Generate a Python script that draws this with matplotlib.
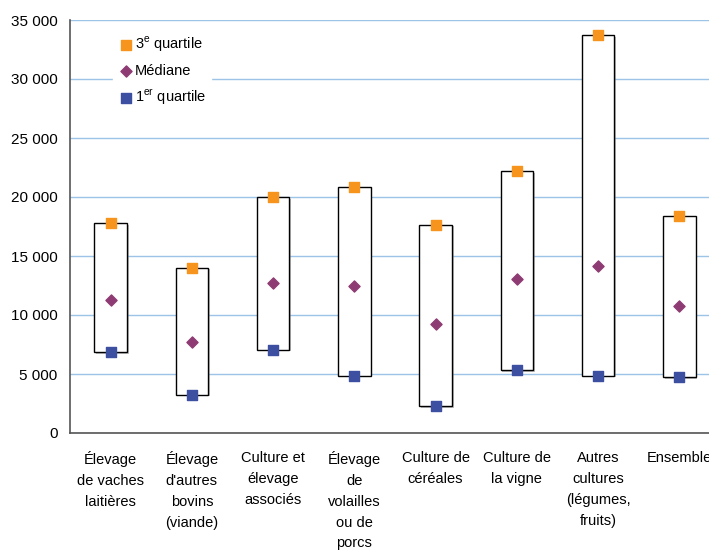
import matplotlib
matplotlib.use("Agg")
import matplotlib.pyplot as plt
import matplotlib.patheffects as pe

plt.rcParams['font.family'] = ['Liberation Sans', 'DejaVu Sans']
plt.rcParams['mathtext.fontset'] = 'custom'
plt.rcParams['mathtext.rm'] = 'Liberation Sans'

categories = [
    "Élevage\nde vaches\nlaitières",
    "Élevage\nd'autres\nbovins\n(viande)",
    "Culture et\nélevage\nassociés",
    "Élevage\nde\nvolailles\nou de\nporcs",
    "Culture de\ncéréales",
    "Culture de\nla vigne",
    "Autres\ncultures\n(légumes,\nfruits)",
    "Ensemble",
]
q3 = [17800, 14000, 20000, 20850, 17650, 22200, 33700, 18400]
median = [11300, 7750, 12750, 12450, 9200, 13050, 14150, 10750]
q1 = [6850, 3250, 7050, 4850, 2300, 5350, 4850, 4750]

W, H = 709, 554
fig = plt.figure(figsize=(W / 100, H / 100), dpi=100)
ax = fig.add_axes([70 / W, 1 - 433 / H, 650 / W, 413 / H])

x = list(range(len(categories)))
heights = [a - b for a, b in zip(q3, q1)]
bars = ax.bar(x, heights, bottom=q1, width=0.4, facecolor="white",
              edgecolor="black", linewidth=1.0, zorder=2)
for b in bars:
    b.set_path_effects([pe.SimplePatchShadow(offset=(1.2, -1.2), shadow_rgbFace="gray", alpha=0.5),
                        pe.Normal()])

ax.scatter(x, q3, marker="s", s=45, color="#F7941D", zorder=3, label="3$^{\\mathrm{e}}$ quartile")
ax.scatter(x, median, marker="D", s=32, color="#8E3B74", zorder=3, label="Médiane")
ax.scatter(x, q1, marker="s", s=45, color="#3D4FA0", zorder=3, label="1$^{\\mathrm{er}}$ quartile")

ax.set_xlim(-0.5, len(categories) - 0.5)
ax.set_ylim(0, 35000)
ax.set_yticks(range(0, 35001, 5000))
ax.set_yticklabels([f"{v:,}".replace(",", " ") for v in range(0, 35001, 5000)], fontsize=11)
ax.set_xticks(x)
ax.set_xticklabels(categories, fontsize=10.5, linespacing=1.62, va="top")
ax.tick_params(axis="both", length=0)
ax.tick_params(axis="x", pad=13)
ax.tick_params(axis="y", pad=9)
ax.yaxis.grid(True, color="#9DC3E6", linewidth=1.0, zorder=0)
ax.set_axisbelow(True)
for s in ["top", "right"]:
    ax.spines[s].set_visible(False)
for s in ["left", "bottom"]:
    ax.spines[s].set_color("#555555")
    ax.spines[s].set_linewidth(1.2)

leg = ax.legend(loc="upper left", bbox_to_anchor=(106 / W, 1 - 23 / H),
                bbox_transform=fig.transFigure, frameon=True, fontsize=10.5,
                labelspacing=0.65, handletextpad=0.0, handlelength=1.2,
                borderpad=0.3, fancybox=False)
leg.get_frame().set_edgecolor("white")
leg.get_frame().set_facecolor("white")
leg.get_frame().set_alpha(1)

fig.savefig("out.png", dpi=100)
